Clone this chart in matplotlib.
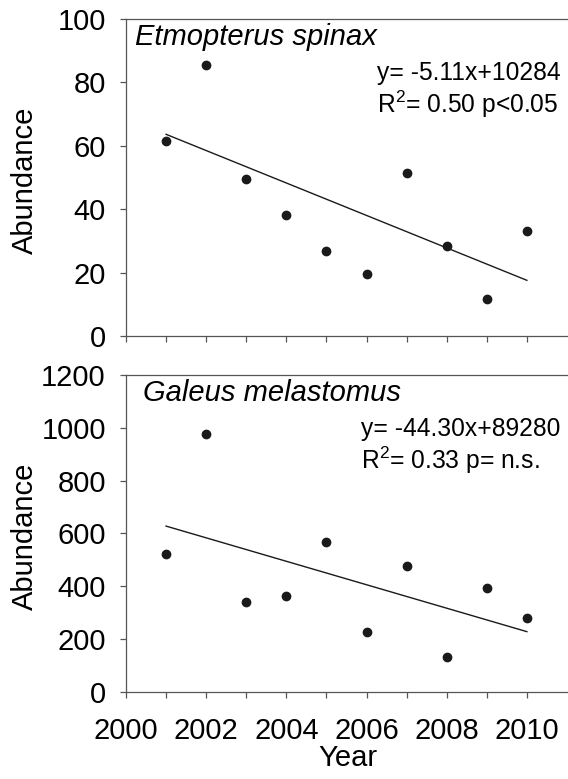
import matplotlib.pyplot as plt
import numpy as np

plt.rcParams['font.family'] = 'Liberation Sans'
plt.rcParams['mathtext.fontset'] = 'custom'
plt.rcParams['mathtext.rm'] = 'Liberation Sans'

# Survey years and abundances
years = [2001, 2002, 2003, 2004, 2005, 2006, 2007, 2008, 2009, 2010]
etmopterus = [61.5, 85.5, 49.5, 38.3, 26.8, 19.6, 51.3, 28.5, 11.7, 33.2]
galeus = [521, 977, 342, 365, 569, 228, 476, 133, 392, 279]

panels = [
    ("Etmopterus spinax", etmopterus, 100, 20,
     ["y= -5.11x+10284", "R$^2$= 0.50 p<0.05"], 0.02, 0.569),
    ("Galeus melastomus", galeus, 1200, 200,
     ["y= -44.30x+89280", "R$^2$= 0.33 p= n.s."], 0.038, 0.533),
]

fig = plt.figure(figsize=(5.68, 7.79), dpi=100)
axes = [fig.add_axes([0.2218, 0.5687, 0.7764, 0.4069]),
        fig.add_axes([0.2218, 0.1117, 0.7764, 0.4069])]

spine_col = '#555555'
for ax, (name, vals, ymax, ystep, eq, nx, ex) in zip(axes, panels):
    x = np.array(years)
    y = np.array(vals)
    ax.plot(x, y, 'o', color='#1a1a1a', markersize=6)
    # least squares trend line
    slope, icpt = np.polyfit(x, y, 1)
    ax.plot(x, slope * x + icpt, color='#1a1a1a', lw=1)

    ax.set_xlim(2000, 2011)
    ax.set_ylim(0, ymax)
    ax.set_yticks(np.arange(0, ymax + 1, ystep))
    ax.set_xticks(np.arange(2000, 2011, 2))
    ax.set_xticks(np.arange(2000, 2011, 1), minor=True)
    ax.spines['right'].set_visible(False)
    for s in ['left', 'bottom', 'top']:
        ax.spines[s].set_color(spine_col)
        ax.spines[s].set_linewidth(0.9)
    ax.tick_params(which='both', direction='out', length=4, width=0.9,
                   color=spine_col, labelsize=21, pad=14)
    ax.tick_params(axis='y', pad=10.5)
    ax.set_ylabel("Abundance", fontsize=21)
    ax.yaxis.set_label_coords(-0.197, 0.49)

    ax.text(nx, 0.918, name, transform=ax.transAxes, style='italic',
            fontsize=21, va='baseline', ha='left')
    ax.text(ex, 0.808, eq[0], transform=ax.transAxes, fontsize=17.7,
            va='baseline', ha='left')
    ax.text(ex, 0.703, eq[1], transform=ax.transAxes, fontsize=17.7,
            va='baseline', ha='left')

axes[0].tick_params(axis='x', which='both', labelbottom=False)
axes[1].set_xlabel("Year", fontsize=21)
axes[1].xaxis.set_label_coords(0.503, -0.163)

plt.savefig("out.png", dpi=100)
